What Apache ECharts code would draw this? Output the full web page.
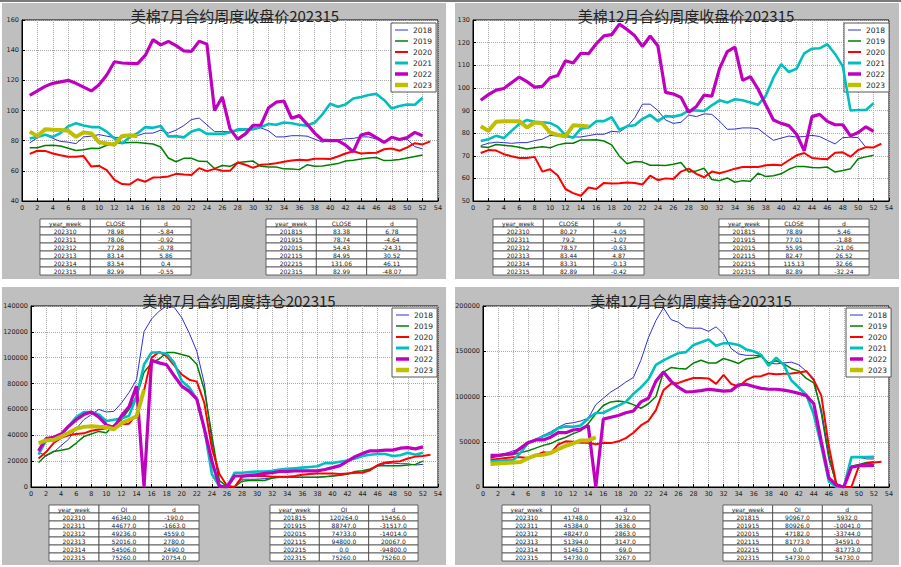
<!DOCTYPE html>
<html><head><meta charset="utf-8">
<script src="https://cdn.jsdelivr.net/npm/echarts@6/dist/echarts.min.js"></script>
<style>html,body{margin:0;padding:0;background:#fff}#c{width:901px;height:567px}</style>
</head><body><div id="c"></div>
<script>
// ---------- data ----------
const YEARS = ['2018','2019','2020','2021','2022','2023'];
const TITLES = ['美棉7月合约周度收盘价202315','美棉12月合约周度收盘价202315','美棉7月合约周度持仓202315','美棉12月合约周度持仓202315'];

const c7_2018 = [78.5,82,84,81.5,79.5,79,78,82.5,83,84,83,82,82,83.5,83.38,85,85,87,85,87,90,94,95,90.5,86,86,86,86.5,87,88.5,88.5,86.5,82.5,82.5,83.3,83.3,83,81,79,80.5,80.5,81.3,81.5,82.5,82.5,81,79,82,81,81,76,74.5];
const c7_2019 = [75.3,75.3,76.8,77,76.5,75,73.5,74,75,74.8,77,78.5,78.5,78.8,78.74,78.3,77.8,75.8,68.5,66,68.3,68.3,66.3,66.2,61.5,63.5,63,65.5,66,66.5,63,62.5,62.5,61.3,61.2,60.8,64,63,63.2,64,64.8,66.5,67,67.8,68.5,68.8,66.8,67,67.5,68.5,69.5,70.5];
const c7_2020 = [71.2,73.3,73.2,71.5,70.3,69.3,69.3,69.8,62.8,63.3,60.5,54,51.2,51,54.43,52.8,55.5,55.8,56.3,58,57.5,57.2,61.8,59.8,61.3,60,60,65.5,64,62,64,64.3,65,66,66.8,67.3,67,68,68,67.8,69.5,71.5,73,71.5,71.8,72,74.3,74.8,73.3,75.5,78.3,77.5,79.5];
const c7_2021 = [81.5,82.5,84,82.5,85,89.5,91.5,90,89,89,86,81.5,78.2,82.5,84.95,89,88.5,89.8,82.8,83,82.2,86,87.5,84.5,84.5,84.5,85.5,87.5,87.5,87.5,89,91,90.5,92,91.5,90.5,90,92,97.5,104.5,102.5,104,108,109,110.3,111,107,101.3,103,104,103.8,108.5];
const c7_2022 = [110,113,116,118,119,120,118,115.5,113,117,123.5,132.3,131.5,131.3,131.06,136.5,147,143.5,145.8,143,139.5,139.2,146,144,100,109,87.8,81,84.5,90.2,90.3,101.8,105.5,106.3,94.8,96.6,91,85,80.3,80,80,77,72.7,83.8,85,82,78.8,82.3,80.8,82,85.5,83.3];
const c7_2023 = [86,83,87.5,87.2,87,86.5,82.5,85.5,84.82,78.98,78.06,77.28,83.14,83.54,82.99];

const c12_2018 = [74.5,75.5,76,75.8,75.5,75.8,75.8,76.7,77.3,79,78.7,78.3,78.3,78.3,78.89,79.5,79.5,80.8,80.5,82.8,86.8,92.8,92.8,90,85.8,84.3,84.8,88,87.3,88.5,88.3,85.3,81.7,81.8,82.3,82.3,82,79.3,76.8,77.8,78.7,78.3,78.5,79,78.5,76.8,75.2,78,78.2,78,73.7];
const c12_2019 = [74,73.7,75,74.6,74.3,73.8,73,73.5,74,73.5,74.8,75.5,75.5,77,77.01,77.1,76.5,74.8,69.8,66.5,67.5,67.2,65.8,65.8,65.7,66.2,67,62.8,63.3,64.5,59.5,59,60.2,58.3,59,58.7,62.3,60.8,61.2,62,64,65.3,65.2,64.8,64.7,65,62.8,63.5,64.3,68.7,69.5,70.2];
const c12_2020 = [71.2,72.5,72.3,70.7,69.8,69,69,69.5,63,64,61.3,55.3,53.5,52.3,55.95,55.3,58,57.7,57.8,58.2,58,57.3,61.2,59.2,60,59.7,63,64.3,62,60.5,63,62.3,63.2,64.3,65,65,65,65.8,66,65.8,68,70.2,71.2,69,68.7,68.5,71.3,71.5,69.6,72.5,73.8,73.7,75.3];
const c12_2021 = [76.5,77.3,78.8,77.8,81,84,85.8,85,84.8,84.5,82.8,79,78,82,82.47,85.3,85.3,87,81.5,83,83.5,86.3,88,85.3,87.5,87.3,88,90,90,89.8,92.3,94.5,93.5,95,94.5,93.5,92.5,96.5,104.5,110.5,107,108.5,115.3,117.3,117.5,119.3,115,109.5,90,90.2,90.2,93.2];
const c12_2022 = [94.5,97,99,99.7,102.3,104.8,102.8,100.3,100.7,104.5,105.5,112,111,115.3,115.13,119.5,123,123.5,128.2,125.8,123,118.3,122.9,118.5,98,97.3,95.8,89.2,91.8,96.8,96.3,108.5,116,118,103.3,105,99.5,92.5,85.8,84.3,83.3,79.5,72.2,87.3,88.3,85.2,83.7,83.7,78.8,80.3,82.8,80.8];
const c12_2023 = [83,81,85,85.2,85.3,85.3,82.5,84.7,84.32,80.27,79.2,78.57,83.44,83.31,82.89];

const oi7_2018 = [27000,24000,27000,32000,37000,45000,52000,56000,60000,58000,58500,65000,73000,83000,120264,130000,136000,140000,139000,131000,119000,105000,80000,35000,2000,0,500,6000,6000,6000,6500,7000,7500,7500,7500,7500,7500,7500,8000,8500,9000,10000,11000,11500,13000,16000,18000,18500,18000,18000,17000,17500];
const oi7_2019 = [19000,24500,27500,28500,29500,34000,39000,41000,43000,42000,48000,52000,60000,70000,88747,96000,99000,104000,104000,102500,101000,95000,75000,40000,5000,500,0,4500,5000,5000,5000,7000,7500,7500,7500,7500,7500,7500,8000,8500,9000,10000,12000,12500,14000,16500,16500,16500,16500,17000,17500,20000];
const oi7_2020 = [22000,27000,34000,38000,40000,41000,41500,43500,44500,45500,47000,48500,49000,56000,74733,100000,104500,101000,94000,87000,83000,81500,65000,30000,10000,1000,0,8000,8500,8500,8500,8000,8000,8000,8500,9500,10000,10500,10500,10500,10000,10500,11000,11000,13000,17000,19000,19500,20000,22000,23500,24000,25000];
const oi7_2021 = [25000,36000,36000,40000,47000,54000,58000,58000,56000,51000,52000,53000,55000,70000,94800,104000,104000,103000,96000,82000,77000,68000,45000,10000,500,0,11000,11000,11500,12000,12000,12500,13500,14000,14500,15000,15500,16000,18500,18500,19500,20500,22000,24000,25000,25500,25500,24000,24500,26500,25000,26500];
const oi7_2022 = [28000,37500,38500,41000,47000,52000,56000,58000,54000,48000,46000,55000,62000,78000,0,98000,96000,94500,86000,78000,74000,68000,45000,20000,500,0,8500,8500,9000,9500,10500,11000,12000,12000,12500,12500,12500,12500,13500,15000,16500,20000,23500,26000,28000,28000,28500,28500,30000,30500,29500,31000];
const oi7_2023 = [34000,36000,36500,39000,42000,45000,46500,47000,46530,46340,44677,49236,52016,54506,75260];

const oi12_2018 = [33000,35000,37000,40000,42000,48000,53000,57000,61000,66000,70000,71000,73000,76000,90967,98000,105000,110000,116000,121000,140000,165000,184000,198000,185000,182000,176000,175500,175500,172000,177000,169000,153000,147000,145500,145500,145000,137000,136000,137000,138000,135000,128000,120000,80000,30000,4000,0,33000,33000,31000,31000];
const oi12_2019 = [32000,34000,35000,36000,38000,40000,43000,46000,48000,52000,55000,59000,62000,70000,80926,90000,94000,95000,94000,91000,87000,92000,100000,127000,132000,131000,130500,137000,140000,137000,137000,142000,139500,136500,141500,142500,144500,137000,139500,136000,131000,128000,120000,115000,85000,35000,2000,0,23000,25000,27000,28000];
const oi12_2020 = [30000,31000,32000,33000,33000,32000,35000,38500,37500,47000,50500,50000,49000,49000,47182,49000,48500,50500,54000,60000,68000,73000,85000,107000,114000,115000,118000,120500,120500,120000,114000,124000,114000,111000,118000,122000,122500,125500,124500,125000,125500,126500,128000,118000,101000,45000,3000,0,0,23000,26000,27000,28000];
const oi12_2021 = [28000,29000,29500,29500,38000,49000,52000,56000,59000,65000,67000,66500,68000,76000,81773,82000,86000,90000,94000,103000,110000,119000,135000,140000,144000,148000,149000,157000,160000,163000,156000,159000,158500,157000,152000,150000,146000,134000,143000,135000,118000,110000,102000,80000,45000,6000,0,0,33000,33000,33000,33500];
const oi12_2022 = [35000,35000,36000,37000,43000,49000,52000,52000,55000,60000,60000,63000,64000,68000,0,75000,77000,79000,82000,84000,94000,98000,117000,127000,117000,110000,105000,105500,106500,108000,107000,106000,106500,113000,113500,111000,109000,108000,108000,107000,105500,103500,101000,92000,50000,10000,2000,0,22000,23500,23500,24000];
const oi12_2023 = [25500,26000,26500,27000,27500,32000,35000,35500,37516,41748,45384,48247,51394,51463,54730];

// tables
const hdrClose = ['year_week','CLOSE','d'];
const hdrOI = ['year_week','OI','d'];
const tC7recent = [['202310','78.98','-5.84'],['202311','78.06','-0.92'],['202312','77.28','-0.78'],['202313','83.14','5.86'],['202314','83.54','0.4'],['202315','82.99','-0.55']];
const tC7years  = [['201815','83.38','6.78'],['201915','78.74','-4.64'],['202015','54.43','-24.31'],['202115','84.95','30.52'],['202215','131.06','46.11'],['202315','82.99','-48.07']];
const tC12recent = [['202310','80.27','-4.05'],['202311','79.2','-1.07'],['202312','78.57','-0.63'],['202313','83.44','4.87'],['202314','83.31','-0.13'],['202315','82.89','-0.42']];
const tC12years  = [['201815','78.89','5.46'],['201915','77.01','-1.88'],['202015','55.95','-21.06'],['202115','82.47','26.52'],['202215','115.13','32.66'],['202315','82.89','-32.24']];
const tO7recent = [['202310','46340.0','-190.0'],['202311','44677.0','-1663.0'],['202312','49236.0','4559.0'],['202313','52016.0','2780.0'],['202314','54506.0','2490.0'],['202315','75260.0','20754.0']];
const tO7years  = [['201815','120264.0','15456.0'],['201915','88747.0','-31517.0'],['202015','74733.0','-14014.0'],['202115','94800.0','20067.0'],['202215','0.0','-94800.0'],['202315','75260.0','75260.0']];
const tO12recent = [['202310','41748.0','4232.0'],['202311','45384.0','3636.0'],['202312','48247.0','2863.0'],['202313','51394.0','3147.0'],['202314','51463.0','69.0'],['202315','54730.0','3267.0']];
const tO12years  = [['201815','90967.0','5932.0'],['201915','80926.0','-10041.0'],['202015','47182.0','-33744.0'],['202115','81773.0','34591.0'],['202215','0.0','-81773.0'],['202315','54730.0','54730.0']];

// ---------- styles / layout ----------
const COLORS = ['#2f2fd8','#008000','#ff0000','#00bfbf','#bf00bf','#bfbf00'];
const WIDTHS = [1,1.5,2,2.6,3.2,4];
const ICONH = [1,1.5,2,3,3.5,4.5];
const FONT = 'DejaVu Sans';

const charts = [
  {data:[c7_2018,c7_2019,c7_2020,c7_2021,c7_2022,c7_2023], min:40, max:160, interval:20,
   grid:{left:22,top:20,width:416,height:181}, legend:{left:391,top:23}, titleX:230, titleY:3},
  {data:[c12_2018,c12_2019,c12_2020,c12_2021,c12_2022,c12_2023], min:50, max:130, interval:10,
   grid:{left:473,top:20,width:416,height:181}, legend:{left:844,top:23}, titleX:681, titleY:3},
  {data:[oi7_2018,oi7_2019,oi7_2020,oi7_2021,oi7_2022,oi7_2023], min:0, max:140000, interval:20000,
   grid:{left:31,top:306,width:407,height:181}, legend:{left:392,top:308}, titleX:234, titleY:288},
  {data:[oi12_2018,oi12_2019,oi12_2020,oi12_2021,oi12_2022,oi12_2023], min:0, max:200000, interval:50000,
   grid:{left:483,top:306,width:406,height:181}, legend:{left:846,top:308}, titleX:686, titleY:288}
];

const tables = [
  {hdr:hdrClose, rows:tC7recent, x:40, y:219, w:151, rh:8},
  {hdr:hdrClose, rows:tC7years, x:266, y:219, w:151, rh:8},
  {hdr:hdrClose, rows:tC12recent, x:493, y:219, w:151, rh:8},
  {hdr:hdrClose, rows:tC12years, x:719, y:219, w:150, rh:8},
  {hdr:hdrOI, rows:tO7recent, x:49, y:505, w:150, rh:8},
  {hdr:hdrOI, rows:tO7years, x:270, y:505, w:148, rh:8},
  {hdr:hdrOI, rows:tO12recent, x:502, y:505, w:148, rh:8},
  {hdr:hdrOI, rows:tO12years, x:723, y:505, w:149, rh:8}
];

const panels = [[2,3,444,276],[455,3,444,276],[2,287,444,278],[455,287,444,278]];

const option = {
  animation:false,
  backgroundColor:'#ffffff',
  textStyle:{fontFamily:FONT},
  title:[], grid:[], xAxis:[], yAxis:[], legend:[], series:[], graphic:[]
};

const gEls = [];
gEls.push({type:'rect', z:-100, shape:{x:0,y:0,width:901,height:2}, style:{fill:'#7a7a7a'}});
panels.forEach(p=>gEls.push({type:'rect', z:-100, shape:{x:p[0],y:p[1],width:p[2],height:p[3]}, style:{fill:'#bfbfbf'}}));

const plain = v => String(v);

charts.forEach((c,k)=>{
  option.title.push({text:TITLES[k], left:c.titleX, top:c.titleY, textAlign:'center',
    textStyle:{fontSize:15, fontWeight:'normal', color:'#222', fontFamily:'Noto Sans CJK SC'}});
  option.grid.push(Object.assign({show:true, backgroundColor:'#ffffff', borderColor:'#000', borderWidth:1}, c.grid));
  option.xAxis.push({type:'value', gridIndex:k, min:0, max:54, interval:2,
    axisLine:{show:true, lineStyle:{color:'#000', width:1}},
    axisTick:{show:true, inside:true, length:3, lineStyle:{color:'#000'}},
    axisLabel:{fontSize:6.5, color:'#222', margin:3, fontFamily:FONT, formatter:plain},
    splitLine:{show:true, lineStyle:{type:'dotted', color:'#a8a8a8', width:1}}});
  option.yAxis.push({type:'value', gridIndex:k, min:c.min, max:c.max, interval:c.interval,
    axisLine:{show:true, lineStyle:{color:'#000', width:1}},
    axisTick:{show:true, inside:true, length:3, lineStyle:{color:'#000'}},
    axisLabel:{fontSize:6.5, color:'#222', margin:3, fontFamily:FONT, formatter:plain},
    splitLine:{show:true, lineStyle:{type:'dotted', color:'#a8a8a8', width:1}}});
  option.legend.push({left:c.legend.left, top:c.legend.top, orient:'vertical', selectedMode:false,
    itemWidth:13, itemHeight:6, itemGap:3, padding:[3,4,3,4],
    backgroundColor:'#ffffff', borderColor:'#555', borderWidth:1, borderRadius:0,
    textStyle:{fontSize:7.5, color:'#222', fontFamily:FONT},
    data:YEARS.map((y,i)=>({name:y, icon:'path://M0,0H13V'+ICONH[i]+'H0Z'}))});
  c.data.forEach((arr,i)=>{
    option.series.push({type:'line', name:YEARS[i], xAxisIndex:k, yAxisIndex:k,
      data:arr.map((v,j)=>[j+1,v]), showSymbol:false, symbol:'none', z:2+i,
      lineStyle:{width:WIDTHS[i], color:COLORS[i]}, itemStyle:{color:COLORS[i]}});
  });
});

tables.forEach(t=>{
  const cw = t.w/3;
  const all = [t.hdr].concat(t.rows);
  all.forEach((row,r)=>{
    row.forEach((cell,ci)=>{
      const x = t.x + ci*cw, y = t.y + r*t.rh;
      gEls.push({type:'rect', z:10, shape:{x:x,y:y,width:cw,height:t.rh},
        style:{fill:'#ffffff', stroke:'#444', lineWidth:0.8}});
      gEls.push({type:'text', z:11, x:x+cw/2, y:y+t.rh/2,
        style:{text:cell, fill:'#222', font:'6px "DejaVu Sans"', textAlign:'center', textVerticalAlign:'middle'}});
    });
  });
});
option.graphic = [{elements:gEls}];

const chart = echarts.init(document.getElementById('c'), null, {renderer:'svg', width:901, height:567});
chart.setOption(option);
</script>
</body></html>
